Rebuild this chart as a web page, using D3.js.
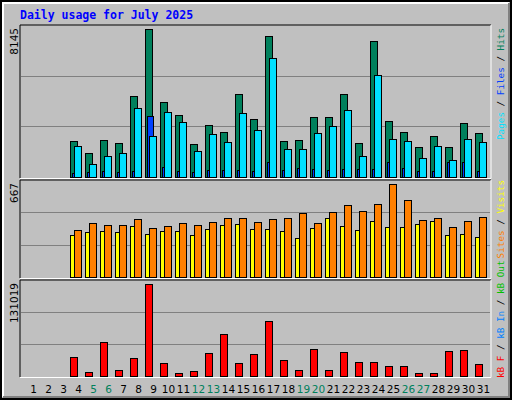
<!DOCTYPE html>
<html><head><meta charset="utf-8">
<script src="https://cdn.jsdelivr.net/npm/d3@7"></script>
<style>body{margin:0;background:#fff}</style>
</head><body><div id="chart"></div>
<script>
var days = d3.range(1, 32);
var weekend = [5, 6, 12, 13, 19, 20, 26, 27];
var hits  = [0,0,0,1995,1330,2050,1884,4433,8145,4155,3435,1828,2881,2493,4543,3214,7757,1995,2050,3324,3324,4543,1884,7480,3103,2493,1662,2272,1662,2992,2438];
var files = [0,0,0,1718,720,1164,1330,3823,2272,3601,3047,1440,2382,1939,3546,2604,6538,1551,1551,2438,2826,3712,1164,5596,2105,1995,1053,1718,942,2105,1939];
var pages = [0,0,0,222,277,332,277,332,3380,554,332,277,388,388,388,332,831,388,499,443,388,443,443,443,831,499,332,332,831,831,332];
var visits = [0,0,0,302,324,333,324,367,309,333,333,302,346,375,382,346,346,333,281,353,426,367,339,404,360,360,382,404,302,309,288];
var sites  = [0,0,0,339,389,375,375,418,353,367,389,375,397,426,426,397,418,426,462,389,469,513,476,520,667,549,411,426,360,404,433];
var kbytes = [0,0,0,26376,6307,47877,9174,24942,131019,19208,4874,7741,32110,59345,19208,30676,77980,22075,9174,37843,9174,33543,20642,20642,14908,14908,4874,4874,34977,36410,17775];

var W = 512, H = 400;
var svg = d3.select("#chart").append("svg").attr("width", W).attr("height", H)
  .style("font-family", "DejaVu Sans");

svg.append("rect").attr("width", W).attr("height", H).attr("fill", "#c0c0c0");
svg.append("rect").attr("x", 1).attr("y", 1).attr("width", W - 2).attr("height", H - 2)
  .attr("fill", "none").attr("stroke", "#000").attr("stroke-width", 2);
svg.append("path").attr("d", "M3,397 V3 H509").attr("fill", "none").attr("stroke", "#fff").attr("stroke-width", 2);
svg.append("path").attr("d", "M3,397 H509 V3").attr("fill", "none").attr("stroke", "#808080").attr("stroke-width", 2);

svg.append("text").attr("x", 20).attr("y", 19).text("Daily usage for July 2025")
  .attr("fill", "#0000ff").attr("font-family", "DejaVu Sans Mono").attr("font-weight", "bold").attr("font-size", 11.5);

var x = d3.scaleBand().domain(days).range([25, 490]);

function panel(top, bottom, max, maxY) {
  svg.append("path").attr("d", "M20," + bottom + " V" + top + " H491").attr("fill", "none").attr("stroke", "#000");
  svg.append("path").attr("d", "M20," + (bottom + 0.5) + " H491 V" + top).attr("fill", "none").attr("stroke", "#fff");
  var base = bottom - 1;
  var y = d3.scaleLinear().domain([0, max]).range([base, maxY]);
  var h = base - top;
  [1 / 3, 2 / 3].forEach(function(f) {
    svg.append("line").attr("x1", 21).attr("x2", 490)
      .attr("y1", Math.round(top + h * f) + 0.5).attr("y2", Math.round(top + h * f) + 0.5)
      .attr("stroke", "#808080");
  });
  svg.append("text").attr("transform", "translate(18," + (maxY - 1) + ") rotate(-90)")
    .attr("text-anchor", "end").attr("font-size", 10.5).text(max);
  return y;
}

function bars(y, data, dx, w, color) {
  svg.append("g").selectAll("rect").data(days.filter(function(d) { return data[d - 1] > 0; }))
    .enter().append("rect")
    .attr("x", function(d) { return x(d) + dx + 0.5; })
    .attr("y", function(d) { return Math.round(y(data[d - 1])) + 0.5; })
    .attr("width", w)
    .attr("height", function(d) { return y(0) - Math.round(y(data[d - 1])); })
    .attr("fill", color).attr("stroke", "#000");
}

var y1 = panel(25, 178, 8145, 29);
bars(y1, hits, 0, 7, "#00805c");
bars(y1, pages, 2, 6, "#0040ff");
bars(y1, files, 4, 7, "#00e0ff");

var y2 = panel(180, 278, 667, 184);
bars(y2, visits, 0, 4, "#ffff00");
bars(y2, sites, 4, 7, "#ff8000");

var y3 = panel(280, 377, 131019, 284);
bars(y3, kbytes, 0, 7, "#ff0000");

svg.append("g").selectAll("text").data(days).enter().append("text")
  .attr("x", function(d) { return x(d) + x.bandwidth() / 2 + 1; })
  .attr("y", 393).attr("text-anchor", "middle").attr("font-size", 10.5)
  .attr("fill", function(d) { return weekend.indexOf(d) >= 0 ? "#00805c" : "#000"; })
  .text(function(d) { return d; });

function legend(y, anchor, parts) {
  var t = svg.append("text").attr("transform", "translate(504," + y + ") rotate(-90)")
    .attr("text-anchor", anchor).attr("font-family", "DejaVu Sans Mono").attr("font-size", 9.3);
  parts.forEach(function(p) { t.append("tspan").attr("fill", p[1]).text(p[0]); });
}
legend(28, "end", [["Pages", "#00e0ff"], [" / ", "#000"], ["Files", "#0040ff"], [" / ", "#000"], ["Hits", "#00805c"]]);
legend(180, "end", [["Sites", "#ff8000"], [" / ", "#000"], ["Visits", "#ffff00"]]);
legend(378, "start", [["kB F", "#ff0000"], [" / ", "#000"], ["kB In", "#0080ff"], [" / ", "#000"], ["kB Out", "#00c000"]]);
</script></body></html>
